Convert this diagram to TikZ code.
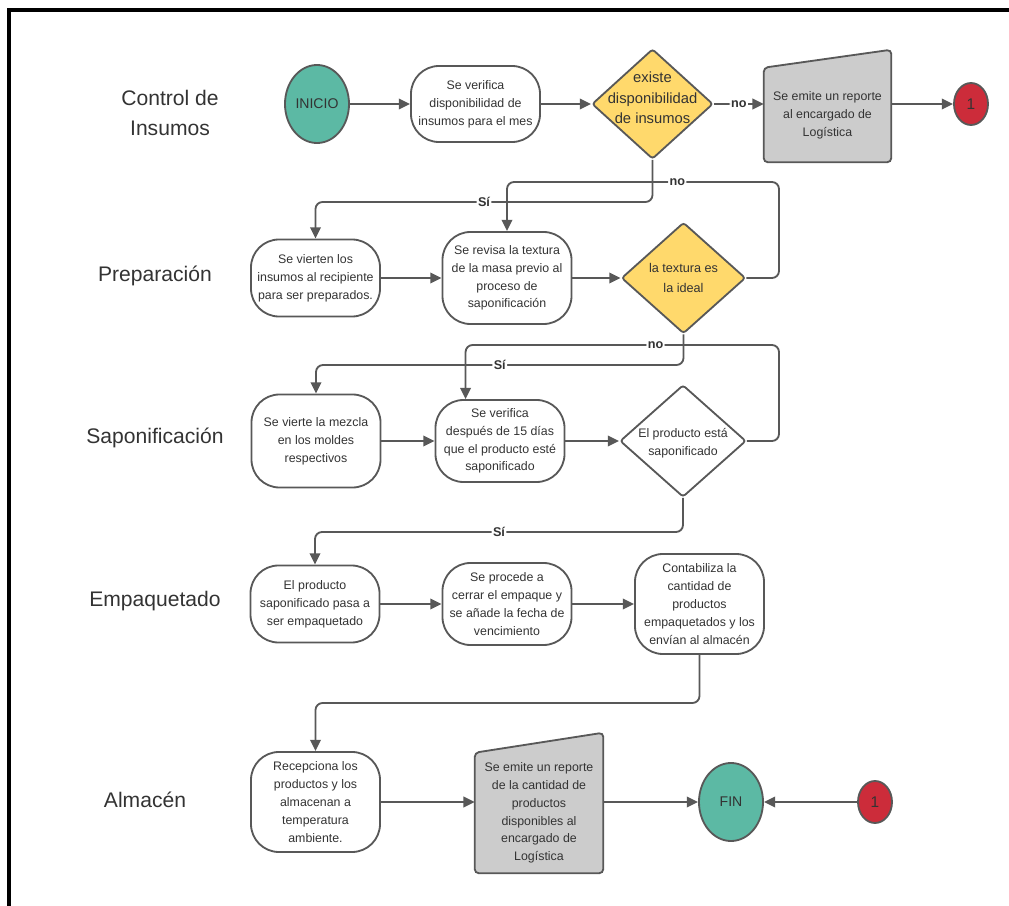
\documentclass[tikz,border=0pt]{standalone}
\usepackage{fontspec}
\setmainfont{Liberation Sans}
\usetikzlibrary{shapes.geometric, arrows.meta, positioning, calc, backgrounds}
\definecolor{startcolor}{RGB}{92,185,164}
\definecolor{decisioncolor}{RGB}{255,217,108}
\definecolor{reportcolor}{RGB}{204,204,204}
\definecolor{linkcolor}{RGB}{204,44,58}
\definecolor{linecolor}{RGB}{88,88,88}
\definecolor{textcolor}{RGB}{51,51,51}

\begin{document}
\begin{tikzpicture}[
    x=0.025cm, y=-0.025cm,
    every node/.style={text=textcolor},
    lane/.style={font=\fontsize{15}{21.3}\selectfont, align=center},
    box/.style={draw=linecolor, line width=1.3pt, rounded corners=0.7cm, fill=white, minimum width=3.225cm, align=center, inner sep=2pt, font=\fontsize{8.8}{12.7}\selectfont},
    terminal/.style={ellipse, draw=linecolor, line width=1.3pt, fill=startcolor, minimum width=1.6cm, minimum height=1.95cm, inner sep=0pt, font=\fontsize{10}{12}\selectfont},
    link/.style={ellipse, draw=linecolor, line width=1.3pt, fill=linkcolor, minimum width=0.85cm, minimum height=1.05cm, inner sep=0pt, font=\fontsize{11}{12}\selectfont},
    decision/.style={diamond, draw=linecolor, line width=1.3pt, rounded corners=2pt, inner sep=0pt, minimum width=3.1cm, minimum height=2.775cm},
    report/.style={minimum width=3.175cm, align=center, inner sep=0pt, font=\fontsize{8.8}{12.7}\selectfont},
    reportshape/.style={draw=linecolor, line width=1.3pt, fill=reportcolor, rounded corners=3pt},
    lbl/.style={fill=white, inner sep=1pt, font=\bfseries\fontsize{9}{10}\selectfont},
    arrow/.style={draw=linecolor, line width=1.3pt, rounded corners=5pt, -{Triangle[length=8pt, width=7.5pt]}}
]
    \useasboundingbox (0,0) rectangle (1009,906);
    \draw[line width=2.2pt] (9,906) -- (9,10) -- (1009,10);

    % Control de Insumos
    \node[lane] (laneA) at (170,113) {Control de\\Insumos};
    \node[terminal] (ini) at (317,104) {INICIO};
    \node[box, minimum height=1.9cm] (ver1) at (475.5,104) {Se verifica\\disponibilidad de\\insumos para el mes};
    \node[decision, minimum width=3.025cm, minimum height=2.75cm, fill=decisioncolor,
        label={[align=center, yshift=0.15cm, font=\fontsize{10.5}{14.7}\selectfont]center:existe\\disponibilidad\\de insumos}] (dis) at (652.5,104) {};
    \node[report, minimum height=2.35cm] (rep1) at (827.5,115) {Se emite un reporte\\al encargado de\\Logística};
    \node[link] (c1) at (971,104) {1};

    % Preparacion
    \node[lane] (laneB) at (155,276) {Preparación};
    \node[box, minimum height=1.925cm] (vert) at (315.5,278) {Se vierten los\\insumos al recipiente\\para ser preparados.};
    \node[box, minimum height=2.3cm] (rev) at (507,278) {Se revisa la textura\\de la masa previo al\\proceso de\\saponificación};
    \node[decision, fill=decisioncolor,
        label={[align=center, font=\fontsize{9}{14}\selectfont]center:la textura es\\la ideal}] (tex) at (683.5,278) {};

    % Saponificacion
    \node[lane] (laneC) at (155,438) {Saponificación};
    \node[box, minimum height=2.325cm] (vierte) at (316,441) {Se vierte la mezcla\\en los moldes\\respectivos};
    \node[box, minimum height=2.05cm] (ver2) at (500,441) {Se verifica\\después de 15 días\\que el producto esté\\saponificado};
    \node[decision, fill=white, minimum width=3.15cm, minimum height=2.8cm,
        label={[align=center, yshift=-0.05cm, font=\fontsize{8.8}{12.7}\selectfont]center:El producto está\\saponificado}] (sap) at (683,441) {};

    % Empaquetado
    \node[lane] (laneD) at (155,601) {Empaquetado};
    \node[box, minimum height=1.925cm] (emp) at (315,604) {El producto\\saponificado pasa a\\ser empaquetado};
    \node[box, minimum height=2.05cm] (proc) at (507,604) {Se procede a\\cerrar el empaque y\\se añade la fecha de\\vencimiento};
    \node[box, minimum height=2.5cm] (cont) at (699.5,604) {Contabiliza la\\cantidad de\\productos\\empaquetados y los\\envían al almacén};

    % Almacen
    \node[lane] (laneE) at (145,800) {Almacén};
    \node[box, minimum height=2.5cm] (recep) at (315.5,802) {Recepciona los\\productos y los\\almacenan a\\temperatura\\ambiente.};
    \node[report, minimum width=3.2cm, minimum height=3cm] (rep2) at (539,813) {Se emite un reporte\\de la cantidad de\\productos\\disponibles al\\encargado de\\Logística};
    \node[terminal] (fin) at (731,802) {FIN};
    \node[link] (c2) at (875,802) {1};

    % Report shapes
    \begin{scope}[on background layer]
        \draw[reportshape] (rep1.south west) -- (rep1.north west) -- ($(rep1.north east)+(0,-18)$) -- (rep1.south east) -- cycle;
        \draw[reportshape] (rep2.south west) -- (rep2.north west) -- ($(rep2.north east)+(0,-20)$) -- (rep2.south east) -- cycle;
    \end{scope}

    % Turning points
    \coordinate (yA) at (0,202);
    \coordinate (yB) at (0,182);
    \coordinate (xB) at (779,0);
    \coordinate (yC) at (0,365);
    \coordinate (yD) at (0,345);
    \coordinate (yE) at (0,532);
    \coordinate (yF) at (0,703);
    \coordinate (inVer) at ($(ver2.north west)+(31,0)$);

    % Arrows
    \draw[arrow] (ini) -- (ver1);
    \draw[arrow] (ver1) -- (dis);
    \draw[arrow] (dis.east) -- node[lbl]{no} (dis.east -| rep1.west);
    \draw[arrow] (c1 -| rep1.east) -- (c1);
    \draw[arrow] (dis.south) -- (dis.south |- yA) -- node[lbl]{Sí} (vert.north |- yA) -- (vert.north);
    \draw[arrow] (tex.east) -- (tex.east -| xB) -- (xB |- yB) -- node[lbl, pos=0.374]{no} (rev.north |- yB) -- (rev.north);
    \draw[arrow] (vert) -- (rev);
    \draw[arrow] (rev) -- (tex);
    \draw[arrow] (tex.south) -- (tex.south |- yC) -- node[lbl]{Sí} (vierte.north |- yC) -- (vierte.north);
    \draw[arrow] (sap.east) -- (sap.east -| xB) -- (xB |- yD) -- node[lbl, pos=0.394]{no} (inVer |- yD) -- (inVer);
    \draw[arrow] (vierte) -- (ver2);
    \draw[arrow] (ver2) -- (sap);
    \draw[arrow] (sap.south) -- (sap.south |- yE) -- node[lbl]{Sí} (emp.north |- yE) -- (emp.north);
    \draw[arrow] (emp) -- (proc);
    \draw[arrow] (proc) -- (cont);
    \draw[arrow] (cont.south) -- (cont.south |- yF) -- (recep.north |- yF) -- (recep.north);
    \draw[arrow] (recep) -- (recep -| rep2.west);
    \draw[arrow] (fin -| rep2.east) -- (fin);
    \draw[arrow] (c2) -- (fin);
\end{tikzpicture}
\end{document}
